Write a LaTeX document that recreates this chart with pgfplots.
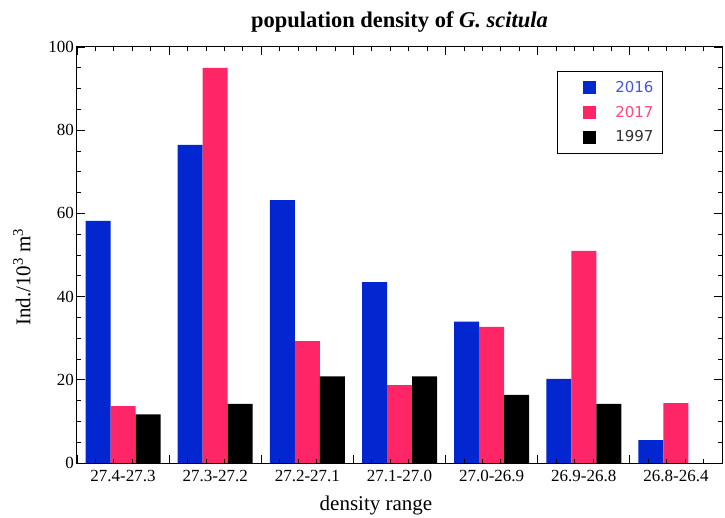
\documentclass[border=0pt]{standalone}
\usepackage{pgfplots}
\pgfplotsset{compat=1.18}
\usepackage{fontspec}
\setmainfont{Liberation Serif}
\newfontfamily\legendfont{DejaVu Sans}
\definecolor{c2016}{RGB}{2,38,208}
\definecolor{c2017}{RGB}{255,38,104}
\definecolor{c1997}{RGB}{0,0,0}
\definecolor{t2016}{RGB}{70,85,225}
\definecolor{t2017}{RGB}{255,70,125}
\definecolor{t1997}{RGB}{50,50,50}

\begin{document}
\begin{tikzpicture}
\path[use as bounding box] (0,0) rectangle (725pt,517pt);
\begin{axis}[
  at={(77pt,54pt)}, anchor=south west,
  scale only axis, width=645pt, height=416pt,
  xmin=-0.5, xmax=6.5, ymin=0, ymax=100,
  ybar=0pt, bar width=25pt,
  axis on top,
  axis line style={line width=1pt},
  tick pos=both, tick align=inside,
  major tick length=8pt, minor tick length=4pt,
  tick style={black, line width=0.8pt},
  xtick={-0.5,0.5,...,6.5}, xticklabels={}, minor x tick num=4,
  extra x ticks={0,...,6},
  extra x tick labels={27.4-27.3,27.3-27.2,27.2-27.1,27.1-27.0,27.0-26.9,26.9-26.8,26.8-26.4},
  extra x tick style={major tick length=0pt},
  xticklabel style={font=\fontsize{17}{20}\selectfont, inner sep=0pt, yshift=-7pt},
  ytick={0,20,...,100}, minor y tick num=3,
  yticklabel style={font=\fontsize{17}{20}\selectfont, inner sep=0pt, xshift=-3pt},
  /pgf/number format/assume math mode=true,
  title={\textbf{population density of \textit{G. scitula}}},
  title style={at={(axis description cs:0.5,1.0457)}, anchor=center, font=\fontsize{22.5}{25}\selectfont},
  xlabel={density range},
  ylabel={Ind./10\textsuperscript{3} m\textsuperscript{3}},
  every axis x label/.style={at={(axis description cs:0.4636,-0.103)}, anchor=center, font=\fontsize{21}{24}\selectfont},
  every axis y label/.style={at={(axis description cs:-0.0853,0.447)}, rotate=90, anchor=center, font=\fontsize{21}{24}\selectfont},
  legend image code/.code={\path (-19pt,0pt) (30pt,0pt); \fill[#1] (0pt,-6.5pt) rectangle (13pt,6.5pt);},
  legend style={at={(0.744,0.942)}, anchor=north west, draw=black, line width=0.8pt,
    inner xsep=7pt, inner ysep=8pt, row sep=8pt,
    font=\legendfont\fontsize{15}{18}\selectfont,
    cells={anchor=west}},
]
% 2016
\addplot[fill=c2016, draw=none] coordinates {
  (0,58.2) (1,76.5) (2,63.2) (3,43.5) (4,34.0) (5,20.2) (6,5.5)
};
\addlegendentry{\textcolor{t2016}{2016}}
% 2017
\addplot[fill=c2017, draw=none] coordinates {
  (0,13.7) (1,95.0) (2,29.3) (3,18.7) (4,32.7) (5,51.0) (6,14.4)
};
\addlegendentry{\textcolor{t2017}{2017}}
% 1997
\addplot[fill=c1997, draw=none] coordinates {
  (0,11.7) (1,14.2) (2,20.8) (3,20.8) (4,16.4) (5,14.2)
};
\addlegendentry{\textcolor{t1997}{1997}}
\end{axis}
\end{tikzpicture}
\end{document}
